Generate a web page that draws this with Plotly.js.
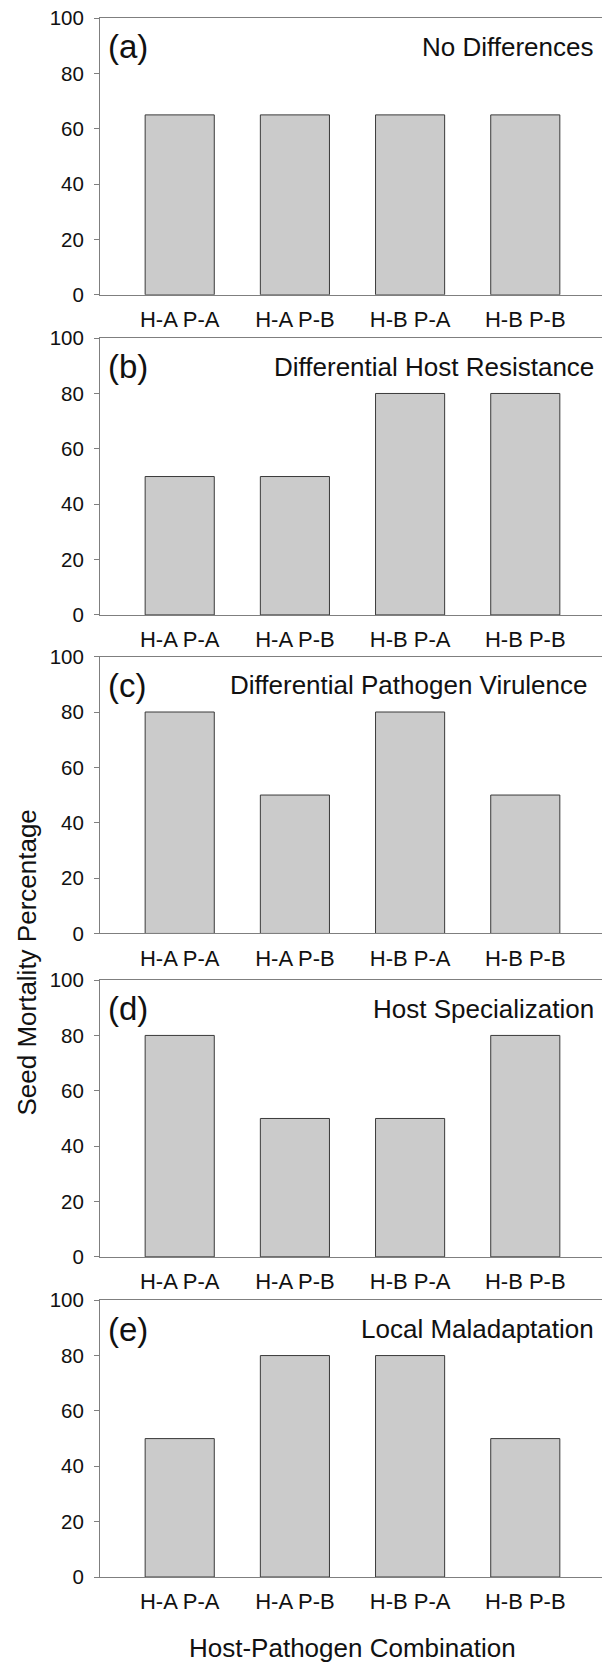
<!DOCTYPE html>
<html>
<head>
<meta charset="utf-8">
<script src="https://cdn.plot.ly/plotly-3.0.1.min.js"></script>
<style>html,body{margin:0;padding:0;background:#fff;}#chart{width:602px;height:1664px;}</style>
</head>
<body>
<div id="chart"></div>
<script>
// ---- data ----
const categories = ["H-A P-A", "H-A P-B", "H-B P-A", "H-B P-B"];
const panelLetters = ["(a)", "(b)", "(c)", "(d)", "(e)"];
const panelTitles = ["No Differences", "Differential Host Resistance", "Differential Pathogen Virulence", "Host Specialization", "Local Maladaptation"];
const valuesA = [65, 65, 65, 65];
const valuesB = [50, 50, 80, 80];
const valuesC = [80, 50, 80, 50];
const valuesD = [80, 50, 50, 80];
const valuesE = [50, 80, 80, 50];
const yTicks = [0, 20, 40, 60, 80, 100];
const xTitle = "Host-Pathogen Combination";
const yTitle = "Seed Mortality Percentage";

// ---- layout geometry (pixels) ----
const W = 602, H = 1664;
const mL = 100, mR = 0, mT = 18.3, mB = 87.3;
const panelTops = [18.3, 338.3, 656.7, 980, 1300];
const panelH = 276.7;
const plotH = H - mT - mB;
const FONT = "Liberation Sans, Arial, sans-serif";

const allValues = [valuesA, valuesB, valuesC, valuesD, valuesE];
const traces = [];
const layout = {
  width: W, height: H,
  margin: {l: mL, r: mR, t: mT, b: mB},
  paper_bgcolor: "#fff", plot_bgcolor: "#fff",
  showlegend: false,
  font: {family: FONT, size: 21, color: "#111"},
  annotations: []
};
function py(pix) { return (H - mB - pix) / plotH; }
function px(pix) { return (pix - mL) / (W - mL - mR); }

allValues.forEach((vals, i) => {
  const n = i + 1;
  const xa = n === 1 ? "x" : "x" + n;
  const ya = n === 1 ? "y" : "y" + n;
  traces.push({
    type: "bar", x: categories, y: vals, xaxis: xa, yaxis: ya,
    width: 0.6,
    marker: {color: "#cbcbcb", line: {color: "#3a3a3a", width: 1}},
    hoverinfo: "skip"
  });
  const top = panelTops[i], bot = top + panelH;
  const xKey = n === 1 ? "xaxis" : "xaxis" + n;
  const yKey = n === 1 ? "yaxis" : "yaxis" + n;
  layout[xKey] = {
    domain: [0, 1], anchor: ya, type: "category",
    range: [-0.692, 3.666],
    showline: true, linecolor: "#7f7f7f", linewidth: 1, mirror: true,
    ticks: "", showgrid: false, zeroline: false,
    tickfont: {family: FONT, size: 22, color: "#111"},
    ticklabelstandoff: 5
  };
  layout[yKey] = {
    domain: [py(bot), py(top)], anchor: xa,
    range: [0, 100], tickvals: yTicks, ticktext: yTicks.map(String),
    showline: true, linecolor: "#7f7f7f", linewidth: 1,
    ticks: "outside", ticklen: 5, tickcolor: "#7f7f7f", tickwidth: 1,
    showgrid: false, zeroline: false,
    tickfont: {family: FONT, size: 20.5, color: "#111"},
    ticklabelstandoff: 6
  };
  layout.annotations.push({
    text: panelLetters[i], xref: "paper", yref: "paper",
    x: px(106), xanchor: "left",
    y: py(top + 28.8), yanchor: "middle", showarrow: false,
    font: {family: FONT, size: 33, color: "#111"}
  });
  layout.annotations.push({
    text: panelTitles[i], xref: "paper", yref: "paper",
    x: px(i === 2 ? 590 : 595.5), xanchor: "right",
    y: py(top + 28.5), yanchor: "middle", showarrow: false,
    font: {family: FONT, size: 26, color: "#111"}
  });
});

layout.annotations.push({
  text: xTitle, xref: "paper", yref: "paper",
  x: px(352), xanchor: "center",
  y: py(1648), yanchor: "middle", showarrow: false,
  font: {family: FONT, size: 26, color: "#111"}
});
layout.annotations.push({
  text: yTitle, xref: "paper", yref: "paper", textangle: -90,
  x: px(27.5), xanchor: "center",
  y: py(963), yanchor: "middle", showarrow: false,
  font: {family: FONT, size: 26, color: "#111"}
});

Plotly.newPlot("chart", traces, layout, {staticPlot: true, displayModeBar: false});
</script>
</body>
</html>
